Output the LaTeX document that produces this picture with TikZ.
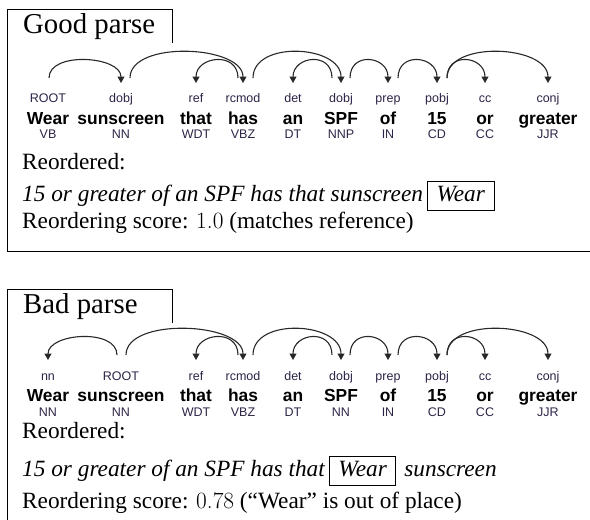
\documentclass[tikz,border=0pt]{standalone}
\usepackage{fontspec}
\setmainfont{Liberation Serif}
\setsansfont{Liberation Sans}
\newfontfamily\lmfont{Latin Modern Roman}
\usetikzlibrary{arrows.meta}
\definecolor{deplabel}{RGB}{45,35,70}
\definecolor{arcgray}{RGB}{40,40,40}
\tikzset{
  word/.style={font=\sffamily\bfseries\fontsize{17.4}{18}\selectfont, inner sep=0pt, anchor=base},
  rel/.style={font=\sffamily\fontsize{12.5}{13}\selectfont, text=deplabel, inner sep=0pt, anchor=base},
  tag/.style={rel},
  body/.style={font=\fontsize{23.3}{28}\selectfont, inner sep=0pt, anchor=base west},
  title/.style={font=\fontsize{28.8}{32}\selectfont, inner sep=0pt, anchor=base west},
  wbox/.style={body, draw, line width=0.8pt, inner xsep=9pt, text height=16pt, text depth=6pt, inner ysep=3.5pt},
  frame/.style={line width=0.8pt},
  dep/.style={->, arcgray, line width=1.1pt},
  low/.style={to path={.. controls +(0,-27) and +(0,-27) .. (\tikztotarget)}},
  high/.style={to path={.. controls +(0,-38) and +(0,-38) .. (\tikztotarget)}},
}
\begin{document}
\begin{tikzpicture}[x=1pt,y=-1pt,>={Triangle[length=6.5pt,width=7pt]}]
  \useasboundingbox (0,0) rectangle (590,520);

  % Good parse
  \node[title] (goodtitle) at (23,33) {Good parse};
  \draw[frame] (172,43) -- (172,9) -- (7,9) -- (7,251) -- (590,251);

  \foreach \x/\w/\r/\p [count=\i] in {48/Wear/ROOT/VB, 121/sunscreen/dobj/NN,
      196/that/ref/WDT, 243/has/rcmod/VBZ, 293/an/det/DT, 341/SPF/dobj/NNP,
      388/of/prep/IN, 437/15/pobj/CD, 485/or/cc/CC, 548/greater/conj/JJR}{
    \node[rel] (gr\i) at (\x,102.5) {\r};
    \node[word] (gw\i) at (\x,124) {\w};
    \node[tag] (gp\i) at (\x,138.5) {\p};
    \coordinate (ga\i) at (\x,83);
  }

  \draw[dep] ([shift={(1,-5)}]ga1) to[low] (ga2);
  \draw[dep] ([shift={(9,-5)}]ga2) to[high] (ga4);
  \draw[dep] ([shift={(-5,-5)}]ga4) to[low] (ga3);
  \draw[dep] ([shift={(10,-5)}]ga4) to[high] (ga6);
  \draw[dep] ([shift={(-9,-5)}]ga6) to[low] (ga5);
  \draw[dep] ([shift={(9,-5)}]ga6) to[low] (ga7);
  \draw[dep] ([shift={(10,-5)}]ga7) to[low] (ga8);
  \draw[dep] ([shift={(10,-5)}]ga8) to[low] (ga9);
  \draw[dep] ([shift={(10,-5)}]ga8) to[high] (ga10);

  \node[body] (greord) at (22,169) {Reordered:};
  \node[body] (gorder) at (22,201) {\itshape 15 or greater of an SPF has that sunscreen};
  \node[wbox] (gwear) at ([xshift=4pt]gorder.base east) {\itshape Wear};
  \node[body] (gscore) at (22,228) {Reordering score: {\lmfont 1.0} (matches reference)};

  % Bad parse
  \node[title] (badtitle) at (23,313) {Bad parse};
  \draw[frame] (172,323) -- (172,289) -- (7,289) -- (7,520);

  \foreach \x/\w/\r/\p [count=\i] in {48/Wear/nn/NN, 121/sunscreen/ROOT/NN,
      196/that/ref/WDT, 243/has/rcmod/VBZ, 293/an/det/DT, 341/SPF/dobj/NN,
      388/of/prep/IN, 437/15/pobj/CD, 485/or/cc/CC, 548/greater/conj/JJR}{
    \node[rel] (br\i) at (\x,380) {\r};
    \node[word] (bw\i) at (\x,401) {\w};
    \node[tag] (bp\i) at (\x,416.5) {\p};
    \coordinate (ba\i) at (\x,360);
  }

  \draw[dep] ([shift={(-4,-5)}]ba2) to[low] (ba1);
  \draw[dep] ([shift={(5,-5)}]ba2) to[high] (ba4);
  \draw[dep] ([shift={(-5,-5)}]ba4) to[low] (ba3);
  \draw[dep] ([shift={(10,-5)}]ba4) to[high] (ba6);
  \draw[dep] ([shift={(-9,-5)}]ba6) to[low] (ba5);
  \draw[dep] ([shift={(9,-5)}]ba6) to[low] (ba7);
  \draw[dep] ([shift={(10,-5)}]ba7) to[low] (ba8);
  \draw[dep] ([shift={(10,-5)}]ba8) to[low] (ba9);
  \draw[dep] ([shift={(10,-5)}]ba8) to[high] (ba10);

  \node[body] (breord) at (22,438) {Reordered:};
  \node[body] (border) at (22,476) {\itshape 15 or greater of an SPF has that};
  \node[wbox] (bwear) at ([xshift=4pt]border.base east) {\itshape Wear};
  \node[body] (bsun) at ([xshift=8pt]bwear.base east) {\itshape sunscreen};
  \node[body] (bscore) at (22,508) {Reordering score: {\lmfont 0.78} (``Wear'' is out of place)};
\end{tikzpicture}
\end{document}
